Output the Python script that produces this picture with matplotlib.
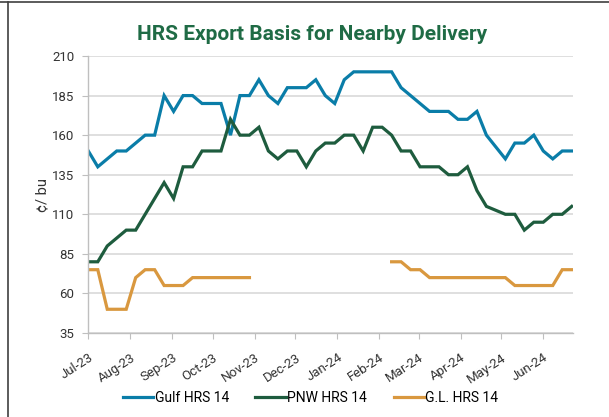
import matplotlib
matplotlib.use('Agg')
import matplotlib.pyplot as plt
import matplotlib.dates as mdates
from matplotlib.lines import Line2D
import numpy as np
import pandas as pd

# weekly basis values, cents per bushel
dates = pd.date_range('2023-07-01', periods=52, freq='7D')

gulf = [150, 140, 145, 150, 150, 155, 160, 160, 185, 175, 185, 185, 180, 180, 180, 160, 185, 185, 195,
        185, 180, 190, 190, 190, 195, 185, 180, 195, 200, 200, 200, 200, 200, 190, 185, 180,
        175, 175, 175, 170, 170, 175, 160, 152.5, 145, 155, 155, 160, 150, 145, 150, 150]

pnw = [80, 80, 90, 95, 100, 100, 110, 120, 130, 120, 140, 140, 150, 150, 150, 170, 160, 160, 165,
       150, 145, 150, 150, 140, 150, 155, 155, 160, 160, 150, 165, 165, 160, 150, 150, 140,
       140, 140, 135, 135, 140, 125, 115, 112.5, 110, 110, 100, 105, 105, 110, 110, 115]

nan = np.nan
gl = [75, 75, 50, 50, 50, 70, 75, 75, 65, 65, 65, 70, 70, 70, 70, 70, 70, 70,
      nan, nan, nan, nan, nan, nan, nan, nan, nan, nan, nan, nan, nan, nan,
      80, 80, 75, 75, 70, 70, 70, 70, 70, 70, 70, 70, 70, 65, 65, 65, 65, 65, 75, 75]

series = [('Gulf HRS 14', gulf, '#0a7da8'),
          ('PNW HRS 14', pnw, '#1e5c3e'),
          ('G.L. HRS 14', gl, '#d9983f')]

yticks = [35, 60, 85, 110, 135, 160, 185, 210]

plt.rcParams['font.family'] = ['Roboto', 'DejaVu Sans']

fig = plt.figure(figsize=(6.09, 4.17), dpi=100)
ax = fig.add_axes([0.145, 0.2014, 0.796, 0.6643])

for name, vals, col in series:
    ax.plot(dates, vals, color=col, lw=2.3, label=name, solid_joinstyle='miter')

ax.set_ylim(35, 210)
ax.set_yticks(yticks)
ax.set_xlim(dates[0], dates[-1] + pd.Timedelta(days=1))
ax.xaxis.set_major_locator(mdates.MonthLocator())
ax.xaxis.set_major_formatter(mdates.DateFormatter('%b-%y'))

ax.grid(axis='y', color='#d9d9d9', lw=1.2)
ax.set_axisbelow(True)
for s in ['top', 'right']:
    ax.spines[s].set_visible(False)
for s in ['left', 'bottom']:
    ax.spines[s].set_color('#bfbfbf')
    ax.spines[s].set_linewidth(1.0)

ax.tick_params(axis='both', colors='#bfbfbf', length=4, labelcolor='#333333', labelsize=9.5)
ax.tick_params(axis='y', pad=6)
ax.tick_params(axis='x', pad=9)
plt.setp(ax.get_xticklabels(), rotation=33, ha='right', rotation_mode='anchor')

ax.set_ylabel('¢/ bu', fontsize=10.5, color='#333333', labelpad=2)

fig.text(0.512, 0.918, 'HRS Export Basis for Nearby Delivery', ha='center', va='center',
         fontsize=15, fontweight='bold', color='#1f6b45')

fig.legend(loc='center', bbox_to_anchor=(0.51, 0.045), ncol=3, frameon=False, fontsize=10,
           handlelength=2.2, handletextpad=0.1, columnspacing=1.9)

# partial frame seen on the source image
fig.add_artist(Line2D([0, 1], [0.995, 0.995], transform=fig.transFigure, color='#404040', lw=1.2))
fig.add_artist(Line2D([0.0135, 0.0135], [0, 0.995], transform=fig.transFigure, color='#404040', lw=1.2))

fig.savefig('out.png', dpi=100)
